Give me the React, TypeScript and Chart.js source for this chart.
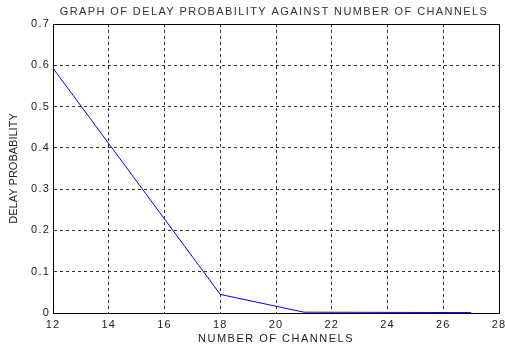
import React, { useEffect, useRef } from "react";
import { Chart, registerables } from "chart.js";

Chart.register(...registerables);

const channels = [12, 18, 21, 27];
const delayProbability = [0.593, 0.045, 0.002, 0.001];
const xTicks = [12, 14, 16, 18, 20, 22, 24, 26, 28];
const yTicks = [0, 0.1, 0.2, 0.3, 0.4, 0.5, 0.6, 0.7];
const titleText = "GRAPH OF DELAY PROBABILITY AGAINST NUMBER OF CHANNELS";
const xLabel = "NUMBER OF CHANNELS";
const yLabel = "DELAY PROBABILITY";

const FONT = "'Liberation Sans', Arial, sans-serif";

const spacingPlugin = {
  id: "spacing",
  beforeUpdate(chart: any) {
    chart.ctx.letterSpacing = "1.2px";
  },
  beforeDraw(chart: any) {
    chart.ctx.letterSpacing = "1.2px";
  },
};

const boxPlugin = {
  id: "box",
  afterDraw(chart: any) {
    const { ctx, chartArea } = chart;
    ctx.save();
    ctx.strokeStyle = "#000";
    ctx.lineWidth = 1;
    ctx.setLineDash([]);
    ctx.strokeRect(
      Math.round(chartArea.left) + 0.5,
      Math.round(chartArea.top) + 0.5,
      Math.round(chartArea.right - chartArea.left),
      Math.round(chartArea.bottom - chartArea.top)
    );
    // main title
    ctx.fillStyle = "#333";
    ctx.textAlign = "center";
    ctx.textBaseline = "middle";
    ctx.font = `11px ${FONT}`;
    ctx.letterSpacing = "1.4px";
    const cx = (chartArea.left + chartArea.right) / 2;
    ctx.fillText(titleText, cx - 2, 12);
    // x label
    ctx.fillStyle = "#222";
    ctx.font = `11px ${FONT}`;
    ctx.letterSpacing = "1.5px";
    ctx.fillText(xLabel, cx, 339);
    // y label
    ctx.letterSpacing = "0px";
    ctx.font = `11px ${FONT}`;
    ctx.translate(14, (chartArea.top + chartArea.bottom) / 2);
    ctx.rotate(-Math.PI / 2);
    ctx.fillText(yLabel, 0, 0);
    ctx.restore();
  },
};

export default function App() {
  const ref = useRef<HTMLCanvasElement | null>(null);
  useEffect(() => {
    document.body.style.margin = "0";
    const canvas = ref.current!;
    const chart = new Chart(canvas, {
      type: "line",
      data: {
        datasets: [
          {
            data: channels.map((c, i) => ({ x: c, y: delayProbability[i] })),
            borderColor: "#0000ff",
            borderWidth: 1,
            pointRadius: 0,
            fill: false,
            tension: 0,
          },
        ],
      },
      options: {
        responsive: false,
        animation: false,
        devicePixelRatio: 1,
        layout: { padding: { left: 0, right: 0, top: 24, bottom: 0 } },
        plugins: {
          legend: { display: false },
          tooltip: { enabled: false },
          title: { display: false },
        },
        scales: {
          x: {
            type: "linear",
            min: 12,
            max: 28,
            afterBuildTicks: (s: any) => {
              s.ticks = xTicks.map((v) => ({ value: v }));
            },
            afterFit: (s: any) => {
              s.height = 34;
              s.paddingRight = 6;
              s.paddingLeft = 0;
            },
            ticks: {
              color: "#222",
              font: { family: FONT, size: 11 },
              padding: 5,
              maxRotation: 0,
              autoSkip: false,
            },
            grid: {
              color: "#333",
              lineWidth: 1,
              drawTicks: false,
            },
            border: { display: true, color: "#000", dash: [3, 3] },
          },
          y: {
            type: "linear",
            min: 0,
            max: 0.7,
            afterBuildTicks: (s: any) => {
              s.ticks = yTicks.map((v) => ({ value: v }));
            },
            afterFit: (s: any) => {
              s.width = 53;
            },
            ticks: {
              color: "#222",
              font: { family: FONT, size: 11 },
              padding: 3,
              autoSkip: false,
              callback: (v: any) => String(Math.round(Number(v) * 10) / 10),
            },
            grid: {
              color: "#333",
              lineWidth: 1,
              drawTicks: false,
            },
            border: { display: true, color: "#000", dash: [3, 3] },
          },
        },
      },
      plugins: [spacingPlugin, boxPlugin],
    } as any);
    return () => chart.destroy();
  }, []);
  return <canvas ref={ref} width={505} height={347} style={{ display: "block" }} />;
}
